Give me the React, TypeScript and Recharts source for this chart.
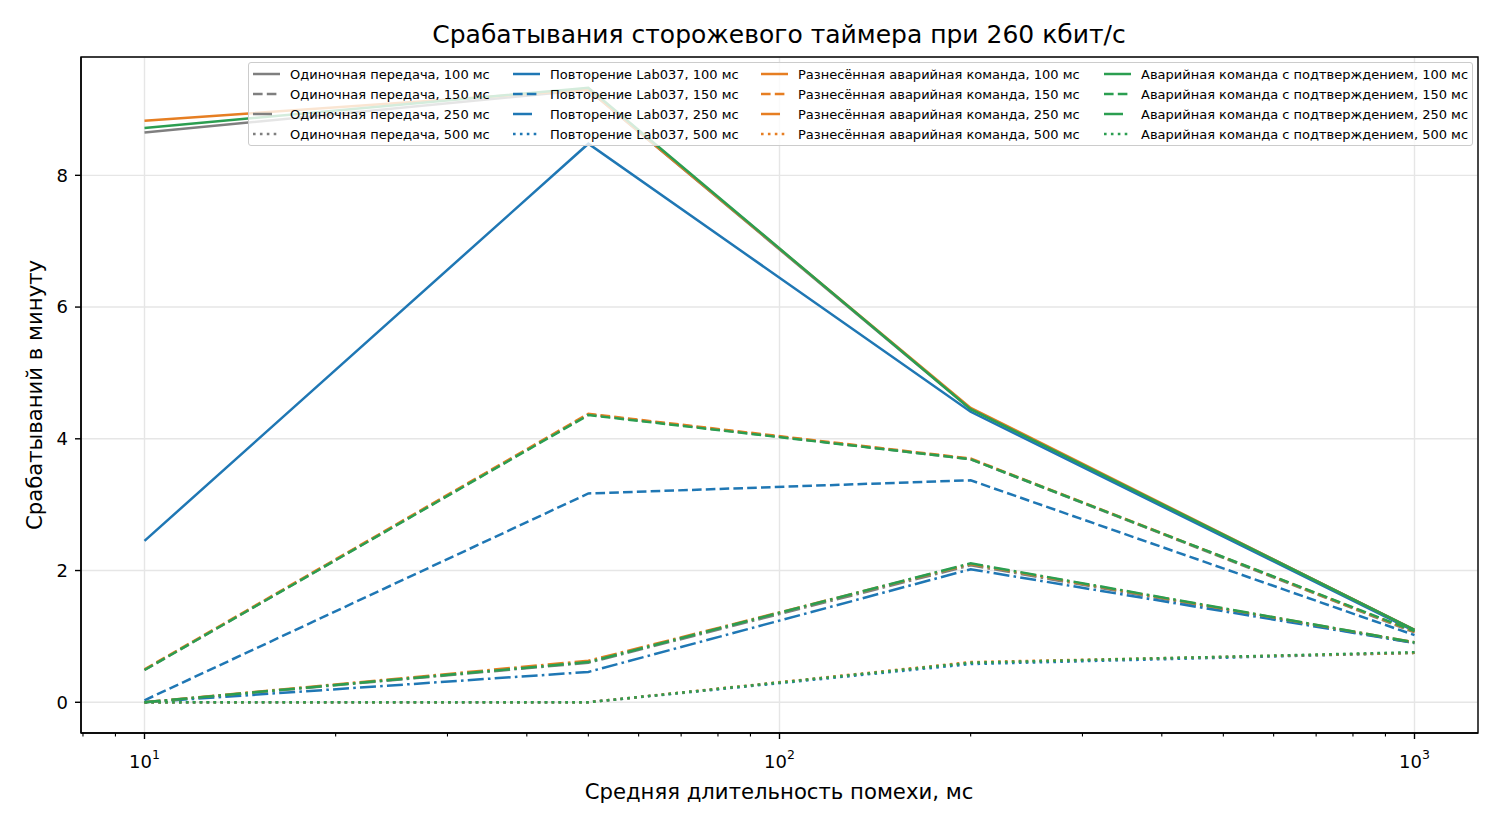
import React from 'react';
import { LineChart, Line, XAxis, YAxis, CartesianGrid, ReferenceArea } from 'recharts';

// ---- data ----
const xValues = [10, 50, 200, 1000];

const single100 = [8.65, 9.3, 4.45, 1.1];
const single150 = [0.49, 4.37, 3.69, 1.06];
const single250 = [0.0, 0.6, 2.08, 0.9];
const single500 = [0.0, 0.0, 0.6, 0.75];

const repeat100 = [2.45, 8.48, 4.41, 1.08];
const repeat150 = [0.03, 3.17, 3.37, 1.02];
const repeat250 = [0.0, 0.46, 2.02, 0.9];
const repeat500 = [0.0, 0.0, 0.58, 0.75];

const spread100 = [8.83, 9.3, 4.47, 1.1];
const spread150 = [0.5, 4.38, 3.7, 1.07];
const spread250 = [0.0, 0.63, 2.1, 0.91];
const spread500 = [0.0, 0.0, 0.61, 0.75];

const ack100 = [8.72, 9.33, 4.45, 1.1];
const ack150 = [0.49, 4.36, 3.69, 1.08];
const ack250 = [0.0, 0.61, 2.11, 0.91];
const ack500 = [0.0, 0.0, 0.6, 0.76];

const strategyNames = [
  'Одиночная передача',
  'Повторение Lab037',
  'Разнесённая аварийная команда',
  'Аварийная команда с подтверждением',
];
const durationNames = ['100 мс', '150 мс', '250 мс', '500 мс'];
const seriesValues = [
  [single100, single150, single250, single500],
  [repeat100, repeat150, repeat250, repeat500],
  [spread100, spread150, spread250, spread500],
  [ack100, ack150, ack250, ack500],
];

const xMajorTicks = [10, 100, 1000];
const xTickExponents = ['1', '2', '3'];
const xMinorTicks = [8, 9, 20, 30, 40, 50, 60, 70, 80, 90, 200, 300, 400, 500, 600, 700, 800, 900];
const yTicks = [0, 2, 4, 6, 8];

const titleText = 'Срабатывания сторожевого таймера при 260 кбит/с';
const xLabelText = 'Средняя длительность помехи, мс';
const yLabelText = 'Срабатываний в минуту';

// ---- styles ----
const colors = ['#7f7f7f', '#1f77b4', '#e67e22', '#2b9e50'];
const dashes = [undefined, '9.6 4.2', '16 4.2 2.6 4.2', '2.6 4.3'];
const legendDashes = [undefined, '9.6 4.2', '19 20', '2.6 4.3'];
const FONT = 'DejaVu Sans, Verdana, sans-serif';
const LW = 2.5;

const rows = xValues.map((x, i) => {
  const r: Record<string, number> = { x };
  seriesValues.forEach((grp, s) =>
    grp.forEach((vals, d) => {
      r[`s${s}d${d}`] = vals[i];
    })
  );
  return r;
});

const allXTicks = [...xMinorTicks, ...xMajorTicks].sort((a, b) => a - b);
const X_DOMAIN = [Math.pow(10, 0.9), Math.pow(10, 3.1)];
const Y_DOMAIN = [-0.4665, 9.7965];

const XTick = (props: any) => {
  const { x, y, payload } = props;
  const v = payload.value;
  const mi = xMajorTicks.indexOf(v);
  const major = mi >= 0;
  return (
    <g>
      <line x1={x} x2={x} y1={y} y2={y + (major ? 6 : 3.5)} stroke="#000" strokeWidth={major ? 1.4 : 1.1} />
      {major && (
        <text x={x} y={y + 35} textAnchor="middle" fontSize={18} fontFamily={FONT} fill="#000">
          10
          <tspan fontSize={12.5} dy={-9}>
            {xTickExponents[mi]}
          </tspan>
        </text>
      )}
    </g>
  );
};

const Legend = () => (
  <div
    style={{
      position: 'absolute',
      left: 248,
      top: 62,
      width: 1225,
      height: 84,
      boxSizing: 'border-box',
      background: 'rgba(255,255,255,0.8)',
      border: '1px solid #cccccc',
      borderRadius: 3,
      fontFamily: FONT,
      fontSize: 13,
      color: '#000',
    }}
  >
    {strategyNames.map((name, s) => (
      <div key={s} style={{ position: 'absolute', left: [4, 264, 512, 855][s], top: 1 }}>
        {durationNames.map((dn, d) => (
          <div key={d} style={{ display: 'flex', alignItems: 'center', height: 20, whiteSpace: 'nowrap' }}>
            <svg width={27} height={10} style={{ marginRight: 10 }}>
              <line x1={0} x2={27} y1={5} y2={5} stroke={colors[s]} strokeWidth={LW} strokeDasharray={legendDashes[d]} />
            </svg>
            <span>{`${name}, ${dn}`}</span>
          </div>
        ))}
      </div>
    ))}
  </div>
);

export default function App() {
  return (
    <div style={{ position: 'absolute', left: 0, top: 0, width: 1500, height: 825, background: '#fff' }}>
      <LineChart width={1500} height={825} data={rows} margin={{ top: 57, right: 22, left: 0, bottom: 0 }}>
        <CartesianGrid stroke="#e6e6e6" strokeWidth={1.4} xAxisId="major" />
        <XAxis
          xAxisId="major"
          dataKey="x"
          type="number"
          scale="log"
          domain={X_DOMAIN}
          allowDataOverflow
          ticks={xMajorTicks}
          interval={0}
          hide
        />
        <XAxis
          dataKey="x"
          type="number"
          scale="log"
          domain={X_DOMAIN}
          allowDataOverflow
          ticks={allXTicks}
          interval={0}
          tick={<XTick />}
          tickLine={false}
          tickSize={0}
          tickMargin={0}
          height={92}
          axisLine={{ stroke: '#000', strokeWidth: 1.4 }}
        />
        <YAxis
          type="number"
          domain={Y_DOMAIN}
          allowDataOverflow
          ticks={yTicks}
          interval={0}
          width={81}
          tickSize={6}
          tickMargin={7}
          tick={{ fontSize: 18, fontFamily: FONT, fill: '#000' }}
          tickLine={{ stroke: '#000', strokeWidth: 1.4 }}
          axisLine={{ stroke: '#000', strokeWidth: 1.4 }}
        />
        {seriesValues.map((grp, s) =>
          grp.map((_, d) => (
            <Line
              key={`s${s}d${d}`}
              dataKey={`s${s}d${d}`}
              type="linear"
              stroke={colors[s]}
              strokeWidth={LW}
              strokeDasharray={dashes[d]}
              dot={false}
              activeDot={false}
              isAnimationActive={false}
            />
          ))
        )}
        <ReferenceArea
          x1={X_DOMAIN[0]}
          x2={X_DOMAIN[1]}
          y1={Y_DOMAIN[0]}
          y2={Y_DOMAIN[1]}
          fill="none"
          fillOpacity={0}
          stroke="#000"
          strokeWidth={1.4}
          ifOverflow="visible"
        />
      </LineChart>
      <svg
        width={1500}
        height={825}
        style={{ position: 'absolute', left: 0, top: 0, pointerEvents: 'none' }}
      >
        <text x={779} y={43} textAnchor="middle" fontSize={25} fontFamily={FONT} fill="#000">
          {titleText}
        </text>
        <text x={779} y={799} textAnchor="middle" fontSize={21.2} fontFamily={FONT} fill="#000">
          {xLabelText}
        </text>
        <text
          x={34}
          y={395}
          textAnchor="middle"
          dominantBaseline="central"
          fontSize={21.2}
          fontFamily={FONT}
          fill="#000"
          transform="rotate(-90 34 395)"
        >
          {yLabelText}
        </text>
      </svg>
      <Legend />
    </div>
  );
}
